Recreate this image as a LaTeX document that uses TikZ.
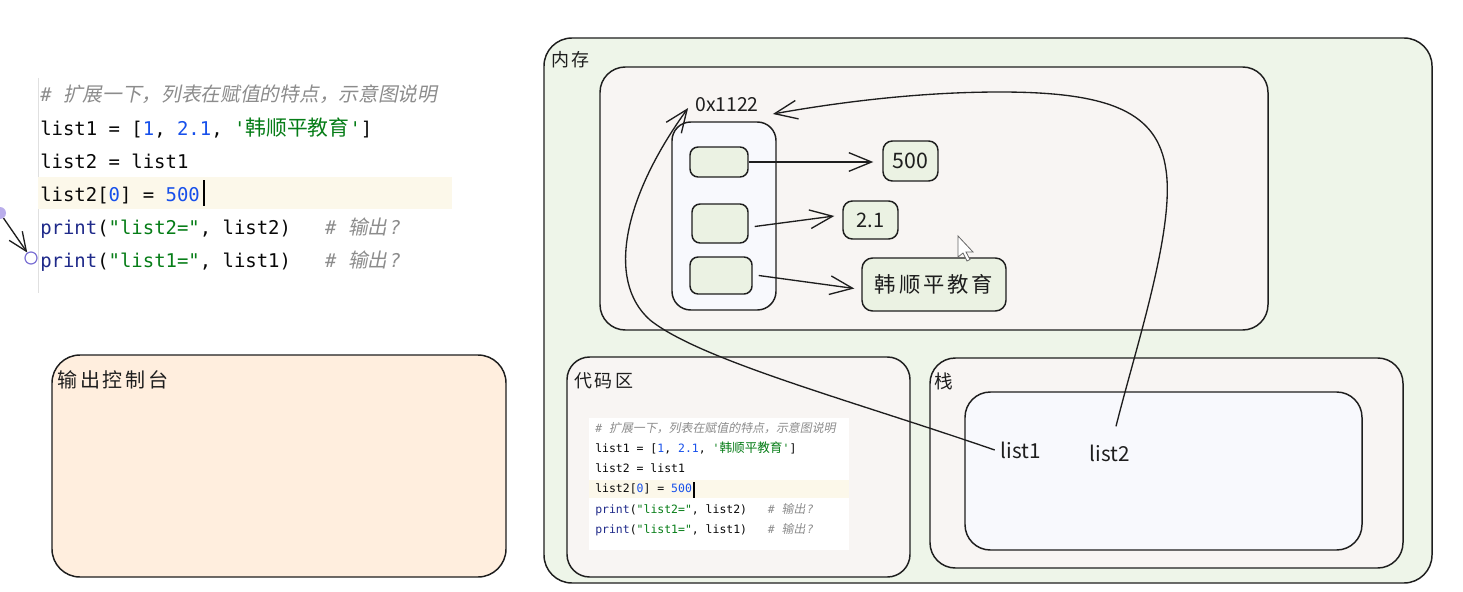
\documentclass[tikz,border=0pt]{standalone}
\usepackage{fontspec}
\setmonofont{DejaVu Sans Mono}
\newfontfamily\cjk[Scale=1.1]{Noto Sans CJK SC}
\newfontfamily\cjkit[FakeSlant=0.2,Scale=1.04]{Noto Sans CJK SC}
\newfontfamily\hand{Noto Sans CJK SC}
\newfontfamily\handsp[LetterSpace=14]{Noto Sans CJK SC}
\usetikzlibrary{arrows.meta,fit,calc}
\definecolor{ink}{HTML}{1E1E1E}
\definecolor{memg}{HTML}{EEF5E9}
\definecolor{roomc}{HTML}{F8F5F3}
\definecolor{bluew}{HTML}{F8F9FD}
\definecolor{slotg}{HTML}{EBF2E3}
\definecolor{peach}{HTML}{FFEEDE}
\definecolor{hl}{HTML}{FCF8EA}
\definecolor{cgrey}{HTML}{8C8C8C}
\definecolor{cnum}{HTML}{1750EB}
\definecolor{cstr}{HTML}{067D17}
\definecolor{ckw}{HTML}{1F2A8A}
\definecolor{codeink}{HTML}{080808}
\definecolor{purpA}{HTML}{B9ADEB}
\definecolor{purpB}{HTML}{7B70D4}

\newcommand\codeblock[5]{%
\begin{scope}[every node/.append style={anchor=base west, inner sep=0pt,
   font={\ttfamily\fontsize{#5}{#5}\selectfont}, text=codeink}]
\node (#1c) at (#2,#3) {\color{cgrey}\itshape\#\ {\cjkit 扩展一下，列表在赋值的特点，示意图说明}};
\node (#1a) at (#2,#3+#4) {list1 = [\textcolor{cnum}{1}, \textcolor{cnum}{2.1}, \textcolor{cstr}{'{\cjk 韩顺平教育}'}]};
\node (#1b) at (#2,#3+2*#4) {list2 = list1};
\node (#1d) at (#2,#3+3*#4) {list2[\textcolor{cnum}{0}] = \textcolor{cnum}{500}};
\node (#1e) at (#2,#3+4*#4) {\textcolor{ckw}{print}(\textcolor{cstr}{"list2="}, list2)\ \ \ \textcolor{cgrey}{\itshape\#\ {\cjkit 输出}\kern0.12em?}};
\node (#1f) at (#2,#3+5*#4) {\textcolor{ckw}{print}(\textcolor{cstr}{"list1="}, list1)\ \ \ \textcolor{cgrey}{\itshape\#\ {\cjkit 输出}\kern0.12em?}};
\end{scope}}

\begin{document}
\begin{tikzpicture}[x=0.75pt,y=-0.75pt,
  box/.style={draw=ink, line width=1.1pt, rounded corners=#1, inner sep=0pt},
  box/.default=6pt,
  arr/.style={draw=ink, line width=1pt, -{Straight Barb[length=17pt,width=14pt,line width=1pt]}},
  lbl/.style={inner sep=0pt, text=ink},
  val/.style={inner sep=0pt, text=ink, font=\hand\fontsize{15}{18}\selectfont}]
\fill[white] (0,0) rectangle (1463,592);
\useasboundingbox (0,0) rectangle (1463,592);

% ---- left code ----
\draw[black!12, line width=0.6pt] (38,78) -- (38,293);
\fill[hl] (38,177) rectangle (452,209);
\codeblock{t}{40}{102}{33}{14.2}
\draw[black, line width=1.3pt] (204,180) -- (204,206);

% left edge marker
\node[circle, fill=purpA, inner sep=0pt, minimum size=9pt] (pdot) at (0,213) {};
\node[circle, draw=purpB, fill=white, line width=0.9pt, inner sep=0pt, minimum size=9pt] (pcirc) at (31,258) {};
\draw[draw=ink, line width=1pt, -{Straight Barb[length=14pt,width=12pt,line width=1pt]}] (pdot) -- (pcirc);

% ---- output console ----
\node[box=21pt, fill=peach, fit={(52,355) (506,577)}] (out) {};
\node[lbl, anchor=west, font=\handsp\fontsize{15}{18}\selectfont] (outlbl) at (57,380) {输出控制台};

% ---- memory ----
\node[box=21pt, fill=memg, fit={(544,38) (1432,583)}] (mem) {};
\node[lbl, anchor=west, font=\handsp\fontsize{13.5}{16}\selectfont] (memlbl) at (551,60) {内存};

% heap
\node[box=19pt, fill=roomc, fit={(600,67) (1268,330)}] (heap) {};
\node[box=14pt, fill=bluew, fit={(672,122) (776,310)}] (lst) {};
\node[box=6pt, fill=slotg, fit={(690,147) (748,177)}] (s1) {};
\node[box=6pt, fill=slotg, fit={(692,204) (748,243)}] (s2) {};
\node[box=6pt, fill=slotg, fit={(690,257) (752,294)}] (s3) {};
\node[box=7pt, fill=slotg, fit={(883,141) (938,181)}] (v500) {};
\node[box=7pt, fill=slotg, fit={(843,201) (898,239)}] (v21) {};
\node[box=8pt, fill=slotg, fit={(862,258) (1006,311)}] (vstr) {};
\node[val, font=\hand\fontsize{16}{18}\selectfont] (t500) at (v500) {500};
\node[val] (t21) at (v21) {2.1};
\node[val, font=\handsp\fontsize{16}{18}\selectfont] (tstr) at (vstr) {韩顺平教育};
\node[val, font=\hand\fontsize{14.5}{18}\selectfont] (addr) at (727,105) {0x1122};

\draw[arr] (s1.east) -- ($(v500.west)+(-9,1)$);
\draw[arr] ($(s2.east)+(6,3)$) -- ($(v21.west)+(-8,-4)$);
\draw[arr] ($(s3.east)+(6,0)$) -- ($(vstr.west)+(-7,4)$);

% code area
\node[box=17pt, fill=roomc, fit={(567,357) (910,577)}] (code) {};
\node[lbl, anchor=west, font=\handsp\fontsize{13.5}{16}\selectfont] (codelbl) at (574,381) {代码区};
\fill[white] (589,418) rectangle (849,550);
\fill[hl] (589,480) rectangle (849,498);
\codeblock{i}{595}{432}{20.3}{8.6}
\draw[black, line width=0.9pt] (694,482) -- (694,498);

% stack
\node[box=19pt, fill=roomc, fit={(930,358) (1403,568)}] (stack) {};
\node[lbl, anchor=west, font=\hand\fontsize{14}{16}\selectfont] (stacklbl) at (934,381) {栈};
\node[box=19pt, fill=bluew, fit={(965,392) (1362,550)}] (stackin) {};
\node[val, font=\hand\fontsize{15.5}{18}\selectfont] (l1) at (1021,450) {list1};
\node[val, font=\hand\fontsize{15.5}{18}\selectfont] (l2) at (1110,453) {list2};

% references
\draw[arr] ($(l1.west)+(-6,0)$) .. controls (850,400) and (700,360) .. (650,320)
   .. controls (605,280) and (625,195) .. ($(addr.west)+(-7,3)$);
\draw[arr] ($(l2.north)+(6,-18)$) .. controls (1135,350) and (1175,230) .. (1166,170)
   .. controls (1158,112) and (1110,92) .. (1000,92)
   .. controls (920,92) and (840,102) .. ($(addr.east)+(14,9)$);

% mouse pointer
\filldraw[fill=white, draw=black!60, line width=0.6pt] (958,236) -- (958,257) -- (963,253) -- (967,261) -- (970,259.5) -- (966,252) -- (973,252) -- cycle;
\end{tikzpicture}
\end{document}
